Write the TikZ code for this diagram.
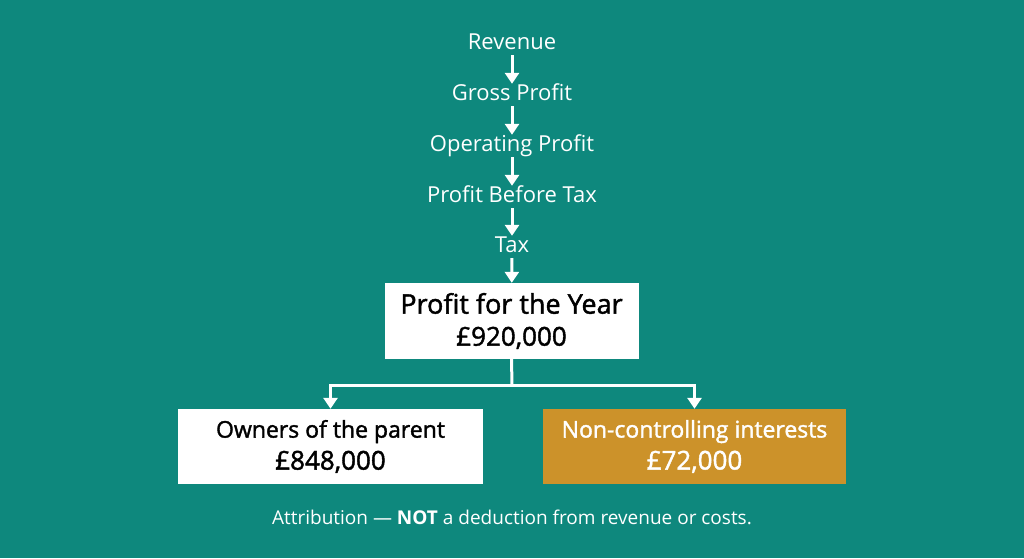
\documentclass[tikz,border=0pt]{standalone}
\usepackage{fontspec}
\setmainfont{Open Sans}
\newfontfamily\semifont[FakeBold=1.6]{Open Sans}
\usetikzlibrary{arrows.meta}
\definecolor{bgteal}{RGB}{14,136,125}
\definecolor{nciGold}{RGB}{204,146,42}
\tikzset{
  stage/.style={text=white, font=\fontsize{22}{24}\selectfont, inner sep=1pt, text height=15pt, text depth=5pt},
  flow/.style={-{Triangle[width=14pt,length=11pt]}, white, line width=3pt},
  link/.style={white, line width=3pt},
  resultbox/.style={align=center, inner sep=0pt, font=\fontsize{26}{32}\semifont}
}

\begin{document}
\begin{tikzpicture}[x=1pt,y=-1pt]
                % Background
                \path[fill=bgteal] (0,0) rectangle (1024,558);

                % Income statement stages
                \node[stage] (rev) at (512,44) {Revenue};
                \node[stage] (gross) at (512,95) {Gross Profit};
                \node[stage] (oper) at (512,146) {Operating Profit};
                \node[stage] (pbt) at (512,197) {Profit Before Tax};
                \node[stage] (tax) at (512,247) {Tax};

                % Profit for the year
                \node[resultbox, fill=white, minimum width=254pt, minimum height=76pt] (pfy) at (511.5,321)
                    {{\fontsize{27}{32}\selectfont Profit for the Year}\\£920,000};

                % Attribution boxes
                \node[resultbox, fill=white, minimum width=305pt, minimum height=75pt] (owners) at (330.5,446.5)
                    {{\fontsize{23}{29}\selectfont\mdseries Owners of the parent}\\£848,000};
                \node[resultbox, fill=nciGold, text=white, minimum width=303pt, minimum height=75pt] (nci) at (694.5,446.5)
                    {{\fontsize{23}{29}\selectfont\mdseries Non-controlling interests}\\£72,000};

                % Arrows down the statement
                \draw[flow] (rev) -- (gross);
                \draw[flow] (gross) -- (oper);
                \draw[flow] (oper) -- (pbt);
                \draw[flow] (pbt) -- (tax);
                \draw[flow] (tax) -- (pfy);

                % Split
                \coordinate (split) at (512,385);
                \coordinate (splitL) at (owners.north |- split);
                \coordinate (splitR) at (nci.north |- split);
                \draw[link] (pfy.south) -- (split);
                \draw[link, line cap=rect] (splitL) -- (splitR);
                \draw[flow] (splitL) -- (owners.north);
                \draw[flow] (splitR) -- (nci.north);

                % Note
                \node[text=white, font=\fontsize{19}{22}\selectfont] (note) at (512,517) {Attribution — \textbf{NOT} a deduction from revenue or costs.};
            \end{tikzpicture}
\end{document}
